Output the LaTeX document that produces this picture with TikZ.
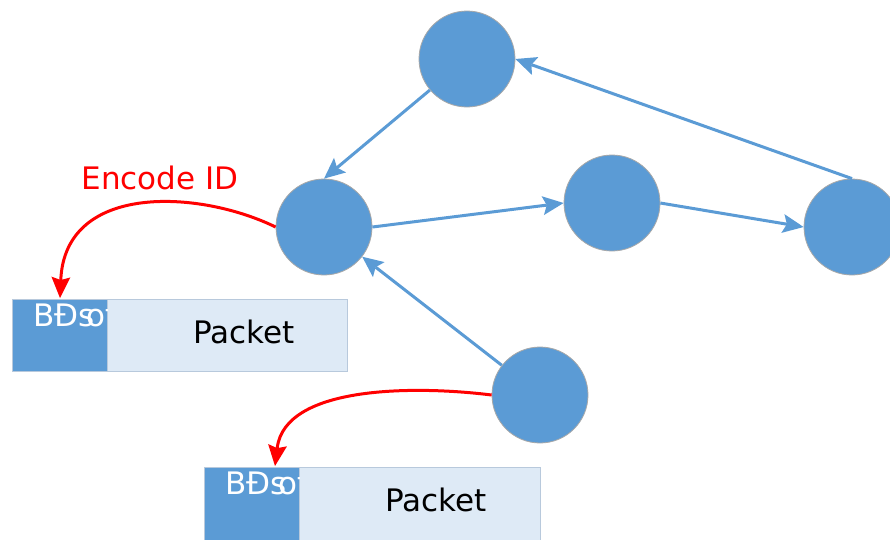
\documentclass[tikz,border=0pt]{standalone}
\usepackage{fontspec}
\setmainfont{DejaVu Sans}
\usetikzlibrary{arrows.meta}
\definecolor{nodeblue}{HTML}{5B9BD5}
\definecolor{lightbox}{HTML}{DEEAF6}
\definecolor{boxedge}{HTML}{B8C9DC}
\definecolor{circedge}{HTML}{A8A8A8}
\tikzset{
  vertex/.style={circle, fill=nodeblue, draw=circedge, line width=0.8pt, minimum size=96pt, inner sep=0pt},
  link/.style={draw=nodeblue, line width=3pt, -{Stealth[length=21pt,width=19pt,inset=4pt,line width=0pt]}},
  encode/.style={draw=red, line width=3pt, -{Stealth[length=21pt,width=19pt,inset=3pt,line width=0pt]}},
  idbox/.style={fill=nodeblue, draw=boxedge, line width=0.6pt, minimum width=95pt, minimum height=72pt, inner sep=0pt},
  pkbox/.style={fill=lightbox, draw=boxedge, line width=0.8pt, minimum width=240pt, minimum height=72pt, inner sep=0pt},
  pktext/.style={font=\fontsize{31}{36}\selectfont, text=black, inner sep=0pt},
  idtext/.style={font=\fontsize{31}{36}\selectfont, text=white, inner sep=0pt, anchor=base west},
  redlabel/.style={font=\fontsize{31}{36}\selectfont, text=red, inner sep=0pt}
}
\begin{document}
\begin{tikzpicture}[x=1pt,y=-1pt]
\useasboundingbox (0,0) rectangle (890,539);
% vertices
\node[vertex] (top) at (467,59) {};
\node[vertex] (left) at (324,227) {};
\node[vertex] (mid) at (612,203) {};
\node[vertex] (right) at (852,227) {};
\node[vertex] (bottom) at (540,395) {};
% links
\draw[link] (top) -- (left.north);
\draw[link] (left.east) -- (mid.west);
\draw[link] (mid.east) -- (right.west);
\draw[link] (right.north) -- (top.east);
\draw[link] (bottom) -- (left);
% packet 1
\node[idbox] (id1) at (59.5,335) {};
\node[pkbox] (pk1) at (227,335) {};
\node[pktext] (pt1) at (244,332) {Packet};
\begin{scope}
\clip (12,299) rectangle (107,371);
\node[idtext] (it1) at (33,326) {BÐs\kern-8pt of};
\end{scope}
% packet 2
\node[idbox, minimum height=80pt] (id2) at (252,507) {};
\node[pkbox, minimum width=241pt, minimum height=80pt] (pk2) at (419.5,507) {};
\node[pktext] (pt2) at (436,500) {Packet};
\begin{scope}
\clip (205,467) rectangle (299,539);
\node[idtext] (it2) at (225,494) {BÐs\kern-8pt of};
\end{scope}
% encode arrows
\coordinate (t1) at (60,298);
\coordinate (t2) at (275,466);
\draw[encode] (left.west) .. controls (200,190) and (65,182) .. (t1);
\draw[encode] (bottom.west) .. controls (420,386) and (285,384) .. (t2);
\node[redlabel] (enc) at (160,178) {Encode ID};
\end{tikzpicture}
\end{document}
